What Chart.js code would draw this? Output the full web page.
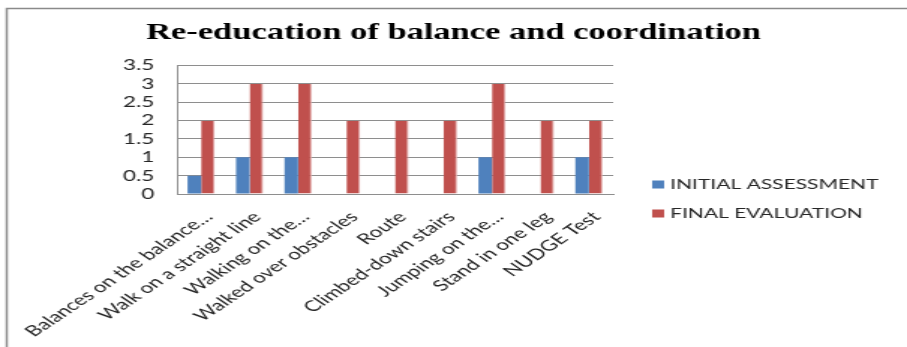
<!DOCTYPE html>
<html>
<head>
<meta charset="utf-8">
<script src="https://cdn.jsdelivr.net/npm/chart.js@4.4.0/dist/chart.umd.min.js"></script>
<style>
    html, body { margin: 0; padding: 0; background: #fff; overflow: hidden; }
    /* the source picture is an Excel chart stretched sideways, so draw it narrow and stretch it */
    #chart { display: block; transform: scaleX(1.49917); transform-origin: 0 0; }
</style>
</head>
<body>
<canvas id="chart" width="605" height="347"></canvas>
<script>
// Data
const categories = [
    'Balances on the balance…',
    'Walk on a straight line',
    'Walking on the…',
    'Walked over obstacles',
    'Route',
    'Climbed-down stairs',
    'Jumping on the…',
    'Stand in one leg',
    'NUDGE Test'
];
const initialAssessment = [0.5, 1, 1, 0, 0, 0, 1, 0, 1];
const finalEvaluation = [2, 3, 3, 2, 2, 2, 3, 2, 2];
const yTicks = [0, 0.5, 1, 1.5, 2, 2.5, 3, 3.5];

const colors = {
    blue: '#4F81BD',
    red: '#C0504D',
    grid: '#8E8E8E',
    frame: '#8A8A8A',
    text: '#262626'
};

// Outer frame (left and top only, as in the picture)
const framePlugin = {
    id: 'frame',
    beforeDraw(chart) {
        const ctx = chart.ctx;
        ctx.save();
        ctx.fillStyle = '#fff';
        ctx.fillRect(0, 0, chart.width, chart.height);
        ctx.strokeStyle = colors.frame;
        ctx.lineWidth = 1.5;
        ctx.beginPath();
        ctx.moveTo(4.5, chart.height);
        ctx.lineTo(4.5, 8.5);
        ctx.lineTo(chart.width, 8.5);
        ctx.stroke();
        ctx.restore();
    }
};

// Legend on the right, drawn from the datasets
const sideLegend = {
    id: 'sideLegend',
    afterDraw(chart) {
        const ctx = chart.ctx;
        const rows = [184, 213];
        ctx.save();
        ctx.font = '14px Lato';
        ctx.textBaseline = 'middle';
        chart.data.datasets.forEach((ds, i) => {
            const y = rows[i];
            ctx.fillStyle = ds.backgroundColor;
            ctx.fillRect(435, y - 3.5, 8, 8);
            ctx.fillStyle = colors.text;
            ctx.fillText(ds.label, 447, y);
        });
        ctx.restore();
    }
};

new Chart(document.getElementById('chart'), {
    type: 'bar',
    data: {
        labels: categories,
        datasets: [
            {
                label: 'INITIAL ASSESSMENT',
                data: initialAssessment,
                backgroundColor: colors.blue
            },
            {
                label: 'FINAL EVALUATION',
                data: finalEvaluation,
                backgroundColor: colors.red,
                borderColor: '#E2AAA8',
                borderWidth: { right: 1 },
                borderSkipped: false
            }
        ]
    },
    options: {
        responsive: false,
        animation: false,
        devicePixelRatio: 1,
        layout: {
            padding: 0
        },
        datasets: {
            bar: {
                categoryPercentage: 0.56,
                barPercentage: 1.0
            }
        },
        plugins: {
            legend: { display: false },
            tooltip: { enabled: false },
            title: {
                display: true,
                text: 'Re-education of balance and coordination',
                color: '#000',
                font: { family: 'Liberation Serif', size: 23, weight: 'bold' },
                padding: { top: 19, bottom: 19 }
            }
        },
        scales: {
            x: {
                grid: { display: false, drawTicks: false },
                border: { display: true, color: colors.grid, width: 1 },
                ticks: {
                    color: colors.text,
                    font: { family: 'Lato', size: 15 },
                    minRotation: 45,
                    maxRotation: 45,
                    padding: 14,
                    labelOffset: 5,
                    autoSkip: false
                },
                afterFit(scale) {
                    scale.height = 153;
                    // long rotated labels may run past the plot edge, like in the original
                    scale.paddingLeft = 0;
                    scale.paddingRight = 0;
                }
            },
            y: {
                min: 0,
                max: 3.5,
                afterBuildTicks(scale) {
                    scale.ticks = yTicks.map(v => ({ value: v }));
                },
                grid: { color: colors.grid, drawTicks: false },
                border: { display: true, color: colors.grid, width: 1 },
                ticks: {
                    color: colors.text,
                    font: { family: 'Lato', size: 15 },
                    padding: 15,
                    autoSkip: false,
                    callback: v => String(v)
                },
                afterFit(scale) {
                    scale.width = 118;
                }
            },
            // empty axis that keeps the right-hand space free for the legend
            side: {
                type: 'linear',
                position: 'right',
                grid: { display: false, drawTicks: false },
                border: { display: false },
                ticks: { display: false },
                afterFit(scale) {
                    scale.width = 196;
                }
            }
        }
    },
    plugins: [framePlugin, sideLegend]
});
</script>
</body>
</html>
